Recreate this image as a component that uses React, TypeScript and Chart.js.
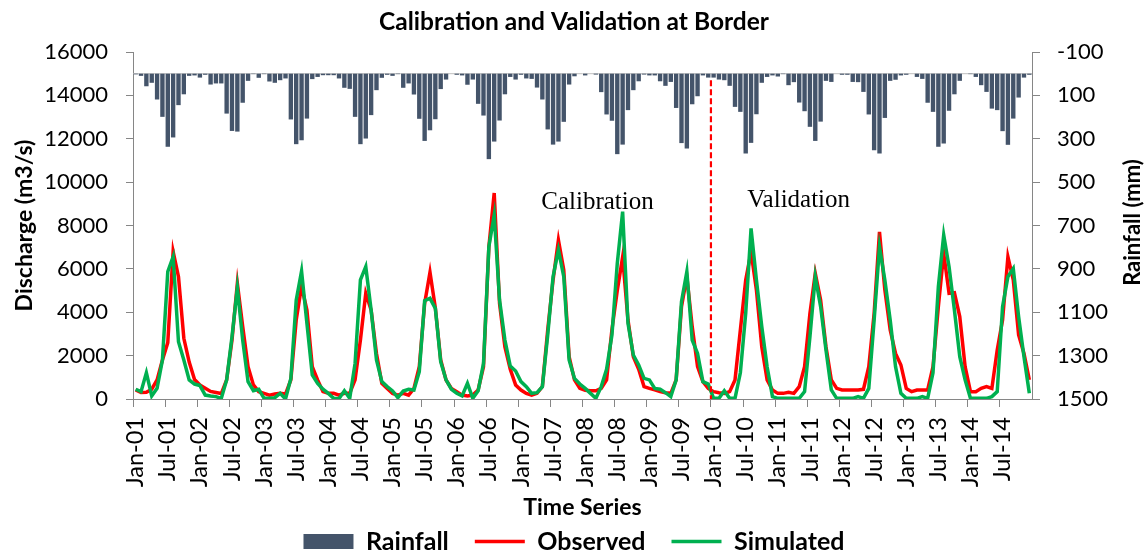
import React, { useEffect, useRef } from 'react';
import { Chart, registerables } from 'chart.js';

Chart.register(...registerables);

const monthNames = ['Jan', 'Feb', 'Mar', 'Apr', 'May', 'Jun', 'Jul', 'Aug', 'Sep', 'Oct', 'Nov', 'Dec'];
const yearCodes = ['01', '02', '03', '04', '05', '06', '07', '08', '09', '10', '11', '12', '13', '14'];
const categories: string[] = yearCodes.flatMap((y) => monthNames.map((m) => `${m}-${y}`));

// Rainfall (mm), one array per year
const rain2001 = [3, 10, 58, 42, 119, 199, 337, 294, 145, 95, 10, 8];
const rain2002 = [18, 5, 50, 45, 45, 184, 264, 267, 134, 33, 2, 19];
const rain2003 = [2, 36, 42, 30, 22, 211, 325, 307, 207, 25, 15, 7];
const rain2004 = [7, 7, 22, 65, 70, 199, 325, 299, 191, 76, 19, 5];
const rain2005 = [10, 2, 65, 45, 96, 208, 310, 261, 210, 71, 27, 0];
const rain2006 = [5, 8, 51, 27, 139, 193, 394, 313, 216, 95, 15, 27];
const rain2007 = [5, 22, 24, 64, 119, 257, 327, 313, 222, 50, 12, 0];
const rain2008 = [8, 0, 4, 85, 188, 217, 371, 327, 168, 76, 35, 4];
const rain2009 = [8, 8, 35, 56, 38, 158, 320, 345, 141, 104, 8, 18];
const rain2010 = [18, 27, 30, 56, 153, 176, 368, 319, 187, 42, 15, 8];
const rain2011 = [13, 2, 53, 39, 133, 173, 245, 310, 221, 33, 38, 0];
const rain2012 = [5, 5, 38, 39, 84, 188, 353, 368, 204, 33, 28, 8];
const rain2013 = [5, 0, 15, 24, 134, 176, 337, 322, 171, 95, 33, 0];
const rain2014 = [2, 15, 53, 84, 161, 168, 265, 328, 207, 110, 18, 5];

// Observed discharge (m3/s)
const obs2001 = [420, 300, 310, 450, 880, 1800, 2600, 6800, 5640, 2800, 1700, 900];
const obs2002 = [650, 500, 350, 300, 250, 880, 2720, 5330, 3340, 1490, 650, 340];
const obs2003 = [260, 180, 230, 260, 230, 880, 3640, 5200, 4100, 1490, 880, 340];
const obs2004 = [260, 260, 180, 260, 260, 880, 2720, 4870, 4100, 2100, 720, 490];
const obs2005 = [260, 180, 260, 180, 490, 1490, 4410, 5840, 4200, 1800, 880, 490];
const obs2006 = [340, 180, 140, 180, 420, 1490, 7000, 9500, 4400, 2400, 1370, 650];
const obs2007 = [415, 260, 180, 260, 570, 3180, 5490, 7330, 5950, 1950, 880, 490];
const obs2008 = [400, 380, 380, 490, 880, 3200, 5000, 6550, 3640, 1950, 1370, 570];
const obs2009 = [490, 420, 340, 290, 260, 880, 4260, 5640, 3340, 1490, 800, 490];
const obs2010 = [340, 290, 260, 340, 880, 3180, 5490, 6790, 5030, 2410, 880, 415];
const obs2011 = [260, 260, 310, 260, 570, 1490, 3950, 5790, 4560, 2410, 880, 490];
const obs2012 = [415, 415, 415, 415, 446, 1490, 3950, 7710, 5030, 3180, 2100, 1570];
const obs2013 = [490, 340, 415, 415, 415, 1490, 4260, 6720, 4870, 4900, 3800, 1490];
const obs2014 = [340, 340, 490, 570, 490, 2260, 3640, 6560, 5490, 2950, 2100, 880];

// Simulated discharge (m3/s)
const sim2001 = [450, 340, 1210, 140, 490, 1800, 5870, 6560, 2640, 1800, 880, 690];
const sim2002 = [620, 180, 140, 110, 30, 880, 2870, 5130, 2720, 800, 380, 450];
const sim2003 = [30, 30, 60, 260, 0, 950, 4560, 5900, 3490, 1110, 720, 450];
const sim2004 = [260, 30, 15, 380, 30, 1640, 5490, 6100, 4100, 1800, 800, 570];
const sim2005 = [370, 60, 370, 450, 415, 1260, 4530, 4640, 4180, 1720, 880, 450];
const sim2006 = [260, 140, 720, 30, 380, 1640, 7020, 8480, 4560, 2720, 1520, 1290];
const sim2007 = [800, 570, 260, 290, 570, 2950, 5640, 6870, 5640, 1800, 950, 690];
const sim2008 = [490, 260, 30, 570, 1370, 2950, 6250, 8640, 3490, 2030, 1570, 950];
const sim2009 = [880, 490, 450, 290, 110, 880, 4490, 5870, 2720, 2100, 800, 690];
const sim2010 = [30, 30, 380, 30, 30, 1210, 3950, 7870, 5490, 3340, 1490, 110];
const sim2011 = [30, 30, 30, 30, 30, 340, 2870, 5640, 4260, 2260, 415, 30];
const sim2012 = [30, 30, 30, 110, 30, 490, 3640, 7020, 5490, 3640, 1490, 260];
const sim2013 = [30, 30, 30, 110, 30, 1210, 5180, 7560, 6100, 4100, 1950, 880];
const sim2014 = [30, 30, 30, 30, 110, 340, 4260, 5640, 6020, 3800, 1950, 260];

const rainfall = [
  ...rain2001, ...rain2002, ...rain2003, ...rain2004, ...rain2005, ...rain2006, ...rain2007,
  ...rain2008, ...rain2009, ...rain2010, ...rain2011, ...rain2012, ...rain2013, ...rain2014,
];
const observed = [
  ...obs2001, ...obs2002, ...obs2003, ...obs2004, ...obs2005, ...obs2006, ...obs2007,
  ...obs2008, ...obs2009, ...obs2010, ...obs2011, ...obs2012, ...obs2013, ...obs2014,
];
const simulated = [
  ...sim2001, ...sim2002, ...sim2003, ...sim2004, ...sim2005, ...sim2006, ...sim2007,
  ...sim2008, ...sim2009, ...sim2010, ...sim2011, ...sim2012, ...sim2013, ...sim2014,
];

// Calibration / validation split: between Dec-09 and Jan-10
const splitLabel = 'Jan-10';
const phaseTexts = ['Calibration', 'Validation'];
const phaseCenterIdx = [86.3, 123.9];
const phaseBaseline = [8750, 8830];

const SANS = 'Lato, "Open Sans", "DejaVu Sans", sans-serif';
const SERIF = '"Liberation Serif", "DejaVu Serif", serif';
const AXIS_GRAY = '#868686';

const overlayPlugin = {
  id: 'overlay',
  beforeDatasetsDraw(chart: any) {
    const { ctx, chartArea, scales } = chart;
    const y0 = scales.y2.getPixelForValue(0);
    ctx.save();
    ctx.strokeStyle = '#BFBFBF';
    ctx.lineWidth = 1;
    ctx.beginPath();
    ctx.moveTo(chartArea.left, y0);
    ctx.lineTo(chartArea.right, y0);
    ctx.stroke();
    ctx.restore();
  },
  afterDatasetsDraw(chart: any) {
    const { ctx, chartArea, scales } = chart;
    const xs = scales.x;
    const ys = scales.y;
    const idx = categories.indexOf(splitLabel);
    const xSplit = xs.getPixelForValue(idx - 0.5);
    ctx.save();
    ctx.strokeStyle = '#FF0000';
    ctx.lineWidth = 2.2;
    ctx.setLineDash([6, 3]);
    ctx.beginPath();
    ctx.moveTo(xSplit, ys.getPixelForValue(14700));
    ctx.lineTo(xSplit, ys.getPixelForValue(0));
    ctx.stroke();
    ctx.setLineDash([]);

    ctx.fillStyle = '#000';
    ctx.font = `25px ${SERIF}`;
    ctx.textAlign = 'center';
    ctx.textBaseline = 'alphabetic';
    phaseTexts.forEach((t, i) => {
      ctx.fillText(t, xs.getPixelForValue(phaseCenterIdx[i]), ys.getPixelForValue(phaseBaseline[i]));
    });

    // right axis title, reading bottom to top
    ctx.font = `bold 22px ${SANS}`;
    ctx.textBaseline = 'middle';
    ctx.translate(1133, (chartArea.top + chartArea.bottom) / 2 - 3);
    ctx.rotate(-Math.PI / 2);
    ctx.fillText('Rainfall (mm)', 0, 0);
    ctx.restore();
  },
};

const plainNumber = (v: any) => String(v);

export default function App() {
  const ref = useRef<HTMLCanvasElement>(null);

  useEffect(() => {
    document.body.style.margin = '0';
    const tickFont = { family: SANS, size: 22 };
    const xTickFont = { family: SANS, size: 23.5 };
    const titleFont = { family: SANS, size: 23, weight: 'bold' as const };
    const legendFont = { family: SANS, size: 25, weight: 'bold' as const };
    const chart = new Chart(ref.current as HTMLCanvasElement, {
      type: 'bar',
      data: {
        labels: categories,
        datasets: [
          {
            type: 'bar',
            label: 'Rainfall',
            data: rainfall,
            yAxisID: 'y2',
            backgroundColor: '#44546A',
            borderWidth: 0,
            barPercentage: 0.82,
            categoryPercentage: 1,
            order: 3,
            pointStyle: 'rect',
          } as any,
          {
            type: 'line',
            label: 'Observed',
            data: observed,
            yAxisID: 'y',
            borderColor: '#FF0000',
            backgroundColor: '#FF0000',
            borderWidth: 3.5,
            pointRadius: 0,
            tension: 0,
            order: 2,
            pointStyle: 'line',
          } as any,
          {
            type: 'line',
            label: 'Simulated',
            data: simulated,
            yAxisID: 'y',
            borderColor: '#00B050',
            backgroundColor: '#00B050',
            borderWidth: 3.5,
            pointRadius: 0,
            tension: 0,
            order: 1,
            pointStyle: 'line',
          } as any,
        ],
      },
      options: {
        animation: false,
        responsive: false,
        layout: { padding: { left: 0, right: 0, top: 0, bottom: -10 } },
        plugins: {
          title: {
            display: true,
            text: 'Calibration and Validation at Border',
            color: '#000',
            font: { family: SANS, size: 24.5, weight: 'bold' },
            padding: { top: 7.3, bottom: 15.3 },
          },
          legend: {
            position: 'bottom',
            labels: {
              usePointStyle: true,
              pointStyleWidth: 50,
              boxHeight: 15,
              padding: 26,
              color: '#000',
              font: legendFont,
              sort: (a: any, b: any) => a.datasetIndex - b.datasetIndex,
            },
          },
          tooltip: { enabled: false },
        },
        scales: {
          x: {
            type: 'category',
            offset: true,
            grid: {
              display: true,
              drawOnChartArea: false,
              drawTicks: true,
              tickLength: 8,
              offset: true,
              color: (c: any) => (c.index % 6 === 0 ? AXIS_GRAY : 'rgba(0,0,0,0)'),
            },
            border: { display: true, color: AXIS_GRAY, width: 1 },
            ticks: {
              autoSkip: false,
              maxRotation: 90,
              minRotation: 90,
              padding: 10,
              color: '#000',
              font: xTickFont,
              callback: (_v: any, i: number) => (i % 6 === 0 ? categories[i] : ''),
            },
            title: {
              display: true,
              text: 'Time Series',
              color: '#000',
              font: titleFont,
              padding: { top: 0, bottom: -18 },
            },
            afterFit: (s: any) => {
              s.height = 104;
            },
          },
          y: {
            position: 'left',
            min: 0,
            max: 16000,
            ticks: { stepSize: 2000, padding: 18, color: '#000', font: tickFont, callback: plainNumber },
            grid: { drawOnChartArea: false, tickLength: 7, color: AXIS_GRAY },
            border: { display: true, color: AXIS_GRAY, width: 1 },
            title: {
              display: true,
              text: 'Discharge (m3/s)',
              color: '#000',
              font: titleFont,
              padding: { top: 11, bottom: 0 },
            },
            afterFit: (s: any) => {
              s.width = 133;
            },
          },
          y2: {
            position: 'right',
            reverse: true,
            min: -100,
            max: 1500,
            ticks: { stepSize: 200, padding: 17, color: '#000', font: tickFont, callback: plainNumber },
            grid: { drawOnChartArea: false, tickLength: 8, color: AXIS_GRAY },
            border: { display: true, color: AXIS_GRAY, width: 1 },
            afterFit: (s: any) => {
              s.width = 116;
            },
          },
        },
      },
      plugins: [overlayPlugin],
    });
    return () => chart.destroy();
  }, []);

  return (
    <div style={{ width: 1148, height: 554 }}>
      <canvas ref={ref} width={1148} height={554} style={{ display: 'block' }} />
    </div>
  );
}
